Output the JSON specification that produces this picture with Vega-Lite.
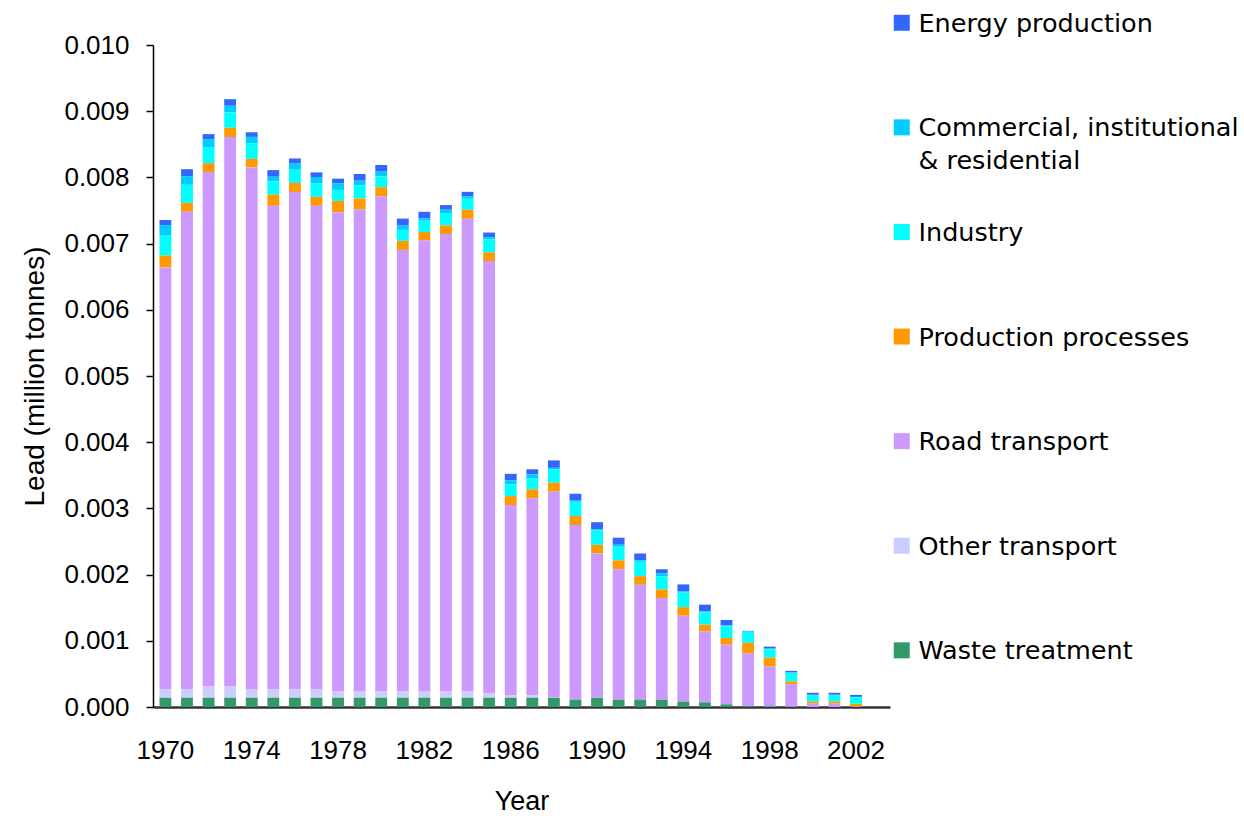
{
  "$schema": "https://vega.github.io/schema/vega-lite/v6.json",
  "autosize": {"type": "none"},
  "padding": {"left": 153, "top": 45, "right": 354, "bottom": 109},
  "width": 737,
  "height": 662,
  "background": "white",
  "config": {"view": {"stroke": null}, "font": "Liberation Sans"},
  "data": {"values": [
    {"year": 1970, "Waste treatment": 0.00014, "Other transport": 0.00013, "Road transport": 0.00637, "Production processes": 0.00018, "Industry": 0.00031, "Commercial, institutional & residential": 0.00015, "Energy production": 0.000076},
    {"year": 1971, "Waste treatment": 0.00014, "Other transport": 0.00013, "Road transport": 0.00721, "Production processes": 0.000136, "Industry": 0.000272, "Commercial, institutional & residential": 0.00013, "Energy production": 0.000106},
    {"year": 1972, "Waste treatment": 0.00014, "Other transport": 0.00017, "Road transport": 0.00777, "Production processes": 0.000136, "Industry": 0.000242, "Commercial, institutional & residential": 0.00012, "Energy production": 0.000076},
    {"year": 1973, "Waste treatment": 0.00014, "Other transport": 0.00017, "Road transport": 0.0083, "Production processes": 0.00014, "Industry": 0.000232, "Commercial, institutional & residential": 0.0001, "Energy production": 0.0001},
    {"year": 1974, "Waste treatment": 0.00014, "Other transport": 0.00013, "Road transport": 0.00788, "Production processes": 0.00013, "Industry": 0.000237, "Commercial, institutional & residential": 0.000095, "Energy production": 0.00007},
    {"year": 1975, "Waste treatment": 0.00014, "Other transport": 0.00013, "Road transport": 0.0073, "Production processes": 0.00017, "Industry": 0.0002, "Commercial, institutional & residential": 0.00007, "Energy production": 0.0001},
    {"year": 1976, "Waste treatment": 0.00014, "Other transport": 0.00013, "Road transport": 0.00751, "Production processes": 0.000136, "Industry": 0.0002, "Commercial, institutional & residential": 0.0001, "Energy production": 0.00007},
    {"year": 1977, "Waste treatment": 0.00014, "Other transport": 0.00013, "Road transport": 0.0073, "Production processes": 0.000136, "Industry": 0.0002, "Commercial, institutional & residential": 0.0001, "Energy production": 0.00007},
    {"year": 1978, "Waste treatment": 0.00014, "Other transport": 0.000095, "Road transport": 0.00724, "Production processes": 0.00017, "Industry": 0.000166, "Commercial, institutional & residential": 0.0001, "Energy production": 0.00007},
    {"year": 1979, "Waste treatment": 0.00014, "Other transport": 0.000095, "Road transport": 0.00728, "Production processes": 0.000166, "Industry": 0.0002, "Commercial, institutional & residential": 0.00007, "Energy production": 0.0001},
    {"year": 1980, "Waste treatment": 0.00014, "Other transport": 0.000095, "Road transport": 0.00748, "Production processes": 0.000136, "Industry": 0.000166, "Commercial, institutional & residential": 0.00007, "Energy production": 0.0001},
    {"year": 1981, "Waste treatment": 0.00014, "Other transport": 0.000095, "Road transport": 0.00667, "Production processes": 0.000136, "Industry": 0.000166, "Commercial, institutional & residential": 0.000065, "Energy production": 0.000106},
    {"year": 1982, "Waste treatment": 0.00014, "Other transport": 0.000095, "Road transport": 0.00681, "Production processes": 0.00013, "Industry": 0.00017, "Commercial, institutional & residential": 0.000035, "Energy production": 0.0001},
    {"year": 1983, "Waste treatment": 0.00014, "Other transport": 0.000095, "Road transport": 0.00691, "Production processes": 0.00013, "Industry": 0.000187, "Commercial, institutional & residential": 0.00005, "Energy production": 0.00007},
    {"year": 1984, "Waste treatment": 0.00014, "Other transport": 0.000095, "Road transport": 0.00714, "Production processes": 0.000136, "Industry": 0.000166, "Commercial, institutional & residential": 0.000035, "Energy production": 0.00007},
    {"year": 1985, "Waste treatment": 0.00014, "Other transport": 0.00007, "Road transport": 0.006527, "Production processes": 0.00013, "Industry": 0.0002, "Commercial, institutional & residential": 0.00003, "Energy production": 0.00007},
    {"year": 1986, "Waste treatment": 0.00014, "Other transport": 0.00004, "Road transport": 0.00287, "Production processes": 0.000136, "Industry": 0.00018, "Commercial, institutional & residential": 0.000056, "Energy production": 0.0001},
    {"year": 1987, "Waste treatment": 0.00014, "Other transport": 0.00004, "Road transport": 0.002973, "Production processes": 0.000136, "Industry": 0.00016, "Commercial, institutional & residential": 0.000066, "Energy production": 0.000076},
    {"year": 1988, "Waste treatment": 0.00014, "Other transport": 0.00001, "Road transport": 0.003103, "Production processes": 0.000136, "Industry": 0.0002, "Commercial, institutional & residential": 0.000024, "Energy production": 0.000112},
    {"year": 1989, "Waste treatment": 0.00011, "Other transport": 0, "Road transport": 0.002639, "Production processes": 0.000136, "Industry": 0.000216, "Commercial, institutional & residential": 0.000015, "Energy production": 0.000106},
    {"year": 1990, "Waste treatment": 0.00014, "Other transport": 0.000005, "Road transport": 0.002175, "Production processes": 0.00013, "Industry": 0.000216, "Commercial, institutional & residential": 0.00002, "Energy production": 0.000106},
    {"year": 1991, "Waste treatment": 0.00011, "Other transport": 0, "Road transport": 0.00197, "Production processes": 0.000136, "Industry": 0.000205, "Commercial, institutional & residential": 0.00003, "Energy production": 0.000106},
    {"year": 1992, "Waste treatment": 0.00011, "Other transport": 0, "Road transport": 0.001737, "Production processes": 0.00013, "Industry": 0.000216, "Commercial, institutional & residential": 0.00002, "Energy production": 0.000106},
    {"year": 1993, "Waste treatment": 0.00011, "Other transport": 0, "Road transport": 0.001536, "Production processes": 0.00013, "Industry": 0.0002, "Commercial, institutional & residential": 0.00004, "Energy production": 0.000065},
    {"year": 1994, "Waste treatment": 0.00008, "Other transport": 0, "Road transport": 0.001299, "Production processes": 0.00013, "Industry": 0.000222, "Commercial, institutional & residential": 0.000015, "Energy production": 0.000106},
    {"year": 1995, "Waste treatment": 0.00007, "Other transport": 0, "Road transport": 0.001074, "Production processes": 0.0001, "Industry": 0.000187, "Commercial, institutional & residential": 0.000015, "Energy production": 0.0001},
    {"year": 1996, "Waste treatment": 0.00004, "Other transport": 0, "Road transport": 0.000902, "Production processes": 0.0001, "Industry": 0.000177, "Commercial, institutional & residential": 0.000015, "Energy production": 0.00008},
    {"year": 1997, "Waste treatment": 0.00001, "Other transport": 0, "Road transport": 0.0008, "Production processes": 0.00016, "Industry": 0.000165, "Commercial, institutional & residential": 0.000005, "Energy production": 0.00001},
    {"year": 1998, "Waste treatment": 0.000005, "Other transport": 0, "Road transport": 0.000605, "Production processes": 0.000136, "Industry": 0.000126, "Commercial, institutional & residential": 0.00001, "Energy production": 0.00003},
    {"year": 1999, "Waste treatment": 0.000003, "Other transport": 0, "Road transport": 0.000343, "Production processes": 0.00004, "Industry": 0.00013, "Commercial, institutional & residential": 0.000005, "Energy production": 0.000025},
    {"year": 2000, "Waste treatment": 0, "Other transport": 0, "Road transport": 0.00005, "Production processes": 0.00003, "Industry": 0.0001, "Commercial, institutional & residential": 0.000005, "Energy production": 0.00003},
    {"year": 2001, "Waste treatment": 0, "Other transport": 0, "Road transport": 0.00005, "Production processes": 0.00003, "Industry": 0.0001, "Commercial, institutional & residential": 0.000005, "Energy production": 0.00003},
    {"year": 2002, "Waste treatment": 0, "Other transport": 0, "Road transport": 0.000008, "Production processes": 0.00004, "Industry": 0.0001, "Commercial, institutional & residential": 0.000005, "Energy production": 0.00003}
  ]},
  "transform": [
    {"fold": ["Energy production", "Commercial, institutional & residential", "Industry", "Production processes", "Road transport", "Other transport", "Waste treatment"], "as": ["sector", "value"]},
    {"window": [{"op": "row_number", "as": "rank"}], "groupby": ["year"]}
  ],
  "mark": {"type": "bar"},
  "encoding": {
    "x": {
      "field": "year",
      "type": "ordinal",
      "scale": {
        "domain": [1970, 1971, 1972, 1973, 1974, 1975, 1976, 1977, 1978, 1979, 1980, 1981, 1982, 1983, 1984, 1985, 1986, 1987, 1988, 1989, 1990, 1991, 1992, 1993, 1994, 1995, 1996, 1997, 1998, 1999, 2000, 2001, 2002, 2003],
        "paddingInner": 0.45,
        "paddingOuter": 0.3
      },
      "axis": {
        "title": "Year",
        "values": [1970, 1974, 1978, 1982, 1986, 1990, 1994, 1998, 2002],
        "labelAngle": 0,
        "ticks": false,
        "labelPadding": 30,
        "labelFont": "Liberation Sans",
        "labelFontSize": 26,
        "labelColor": "black",
        "titleFont": "Liberation Sans",
        "titleFontSize": 27,
        "titleFontWeight": "normal",
        "titleColor": "black",
        "titlePadding": 25,
        "domainColor": "#333333",
        "domainWidth": 2.5
      }
    },
    "y": {
      "field": "value",
      "type": "quantitative",
      "stack": "zero",
      "scale": {"domain": [0, 0.01], "nice": false},
      "axis": {
        "title": "Lead (million tonnes)",
        "values": [0, 0.001, 0.002, 0.003, 0.004, 0.005, 0.006, 0.007, 0.008, 0.009, 0.01],
        "format": ".3f",
        "grid": false,
        "tickSize": 7,
        "tickColor": "black",
        "tickWidth": 1.5,
        "domainColor": "black",
        "domainWidth": 1.5,
        "labelPadding": 17,
        "labelFont": "Liberation Sans",
        "labelFontSize": 26,
        "labelColor": "black",
        "titleFont": "Liberation Sans",
        "titleFontSize": 28,
        "titleFontWeight": "normal",
        "titleColor": "black",
        "titlePadding": 14
      }
    },
    "order": {"field": "rank", "type": "quantitative", "sort": "descending"},
    "color": {
      "field": "sector",
      "type": "nominal",
      "sort": ["Energy production", "Commercial, institutional & residential", "Industry", "Production processes", "Road transport", "Other transport", "Waste treatment"],
      "scale": {
        "domain": ["Energy production", "Commercial, institutional & residential", "Industry", "Production processes", "Road transport", "Other transport", "Waste treatment"],
        "range": ["#3366FF", "#00CCFF", "#00FFFF", "#FF9900", "#CC99FF", "#CCCCFF", "#339966"]
      },
      "legend": {
        "orient": "none",
        "legendX": 736,
        "legendY": -35,
        "title": null,
        "padding": 0,
        "symbolType": "square",
        "symbolSize": 256,
        "symbolStrokeWidth": 0,
        "labelFont": "DejaVu Sans",
        "labelFontSize": 25.5,
        "labelColor": "black",
        "labelOffset": 4,
        "labelLimit": 400,
        "labelBaseline": "top",
        "gridAlign": "all",
        "rowPadding": 43.6,
        "labelExpr": "datum.label == 'Commercial, institutional & residential' ? ['Commercial, institutional', '& residential'] : datum.label",
        "encode": {"labels": {"update": {"dy": {"value": -11}, "lineHeight": {"value": 33}}}}
      }
    }
  }
}
